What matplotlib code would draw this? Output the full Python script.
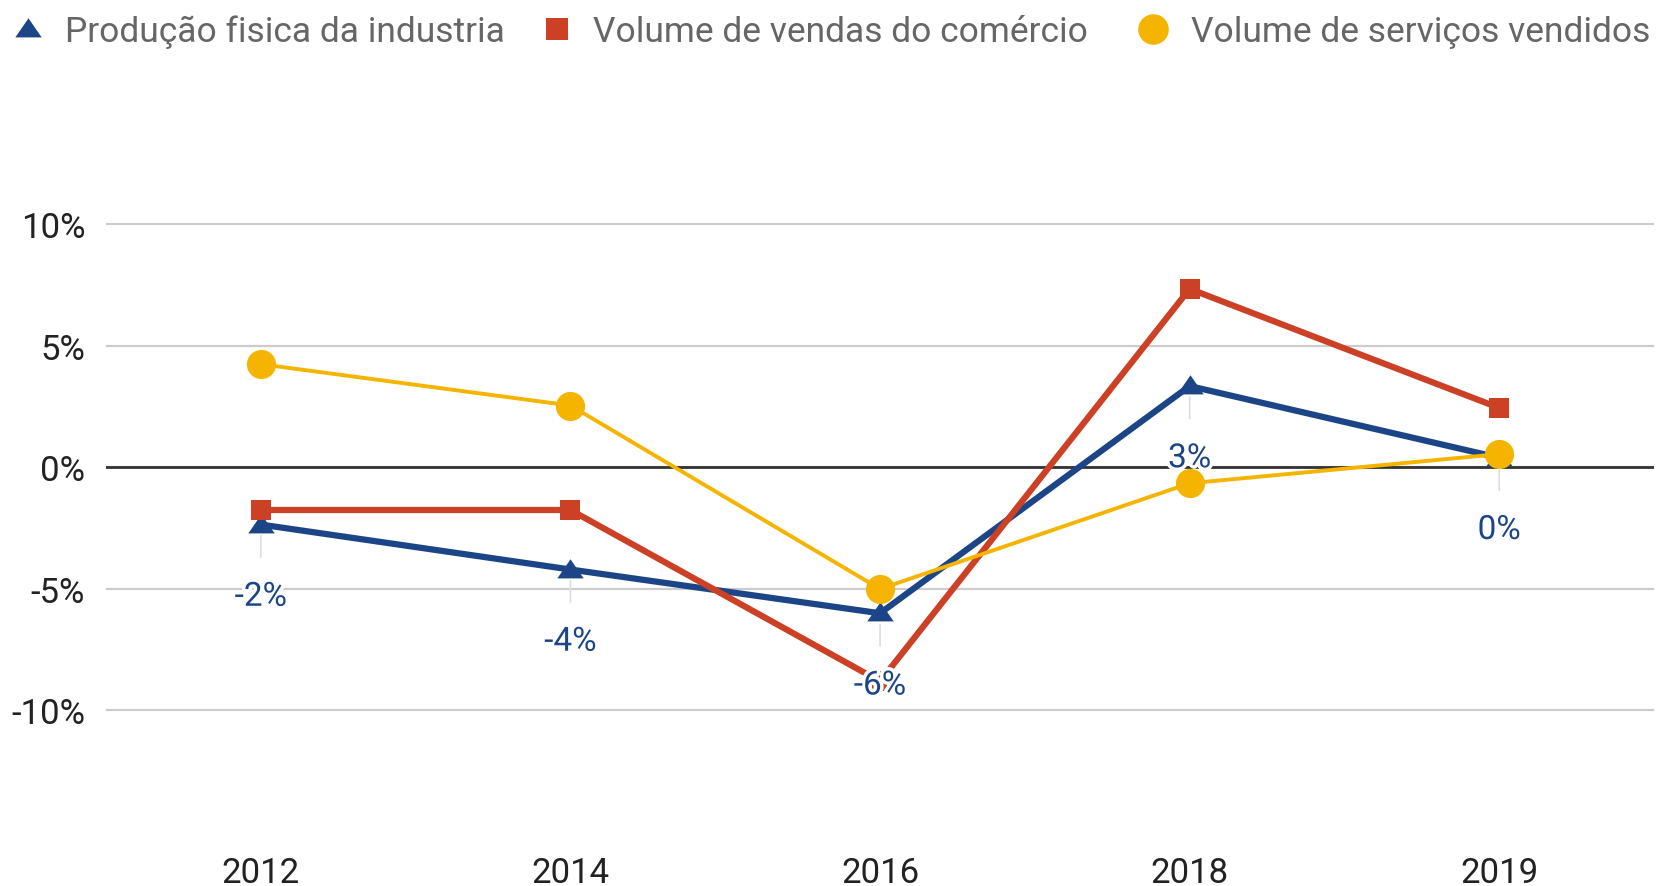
#!/usr/bin/env python3
"""
Line chart: variação anual de indústria, comércio e serviços.
"""
import matplotlib
matplotlib.use("Agg")
import matplotlib.pyplot as plt
import matplotlib.patheffects as pe
from matplotlib.lines import Line2D

# data
years = ["2012", "2014", "2016", "2018", "2019"]
industria = [-2.35, -4.2, -6.0, 3.35, 0.4]
comercio = [-1.75, -1.75, -8.8, 7.35, 2.45]
servicos = [4.25, 2.55, -5.0, -0.65, 0.55]
industria_labels = ["-2%", "-4%", "-6%", "3%", "0%"]

series_names = ["Produção fisica da industria",
                "Volume de vendas do comércio",
                "Volume de serviços vendidos"]

BLUE = "#1c4587"
RED = "#cc4125"
YELLOW = "#f4b400"

# slightly wide triangle like the original chart
TRI = [(-1, -0.6), (1, -0.6), (0, 0.85), (-1, -0.6)]

plt.rcParams["font.family"] = ["Roboto", "DejaVu Sans"]


def create_chart():
    fig = plt.figure(figsize=(16.6, 8.87), dpi=100)
    ax = fig.add_axes([0.0639, 0.0609, 0.9325, 0.8219])
    ax.set_axisbelow(True)

    x = list(range(len(years)))

    # series (first drawn at the bottom, like the original)
    ax.plot(x, industria, color=BLUE, lw=4.5, marker=TRI, ms=19,
            markeredgewidth=0, zorder=3, solid_joinstyle="miter")
    ax.plot(x, comercio, color=RED, lw=4.5, marker="s", ms=15,
            markeredgewidth=0, zorder=4, solid_joinstyle="miter")
    ax.plot(x, servicos, color=YELLOW, lw=2.8, marker="o", ms=21,
            markeredgewidth=0, zorder=5)

    # data labels for the first series, with a thin stem
    for xi, yi, lab in zip(x, industria, industria_labels):
        ax.annotate(lab, xy=(xi, yi), xytext=(0, -52),
                    textcoords="offset points", ha="center", va="center",
                    fontsize=24, color=BLUE, zorder=8,
                    path_effects=[pe.withStroke(linewidth=5, foreground="white")],
                    arrowprops=dict(arrowstyle="-", color="#dddddd", lw=1.2,
                                    shrinkA=15, shrinkB=8))

    # axes styling
    ax.set_xlim(-0.5, len(years) - 0.5)
    ax.set_ylim(-15, 15)
    ax.set_yticks([-10, -5, 0, 5, 10])
    ax.set_yticklabels(["-10%", "-5%", "0%", "5%", "10%"])
    ax.set_xticks(x)
    ax.set_xticklabels(years)
    ax.tick_params(axis="both", length=0, labelsize=25, colors="#222222")
    ax.tick_params(axis="y", pad=15)
    ax.tick_params(axis="x", pad=17)
    ax.grid(axis="y", color="#cccccc", lw=1.6)
    ax.axhline(0, color="#333333", lw=2.0, zorder=2)
    for spine in ax.spines.values():
        spine.set_visible(False)

    # legend at the top, placed entry by entry (pixel positions / figure size)
    W, H = 1660, 887
    markers = [(TRI, BLUE, 19), ("s", RED, 16), ("o", YELLOW, 22)]
    marker_x = [28, 557, 1153]
    text_x = [65, 593, 1191]
    for (m, c, s), mx, tx, name in zip(markers, marker_x, text_x, series_names):
        fig.add_artist(Line2D([mx / W], [1 - 30 / H], marker=m, color=c, ms=s,
                              mew=0, ls="none", transform=fig.transFigure))
        fig.text(tx / W, 1 - 42 / H, name, fontsize=25.5, color="#666666",
                 ha="left", va="baseline")

    fig.savefig("out.png", dpi=100, facecolor="white")


if __name__ == "__main__":
    create_chart()
